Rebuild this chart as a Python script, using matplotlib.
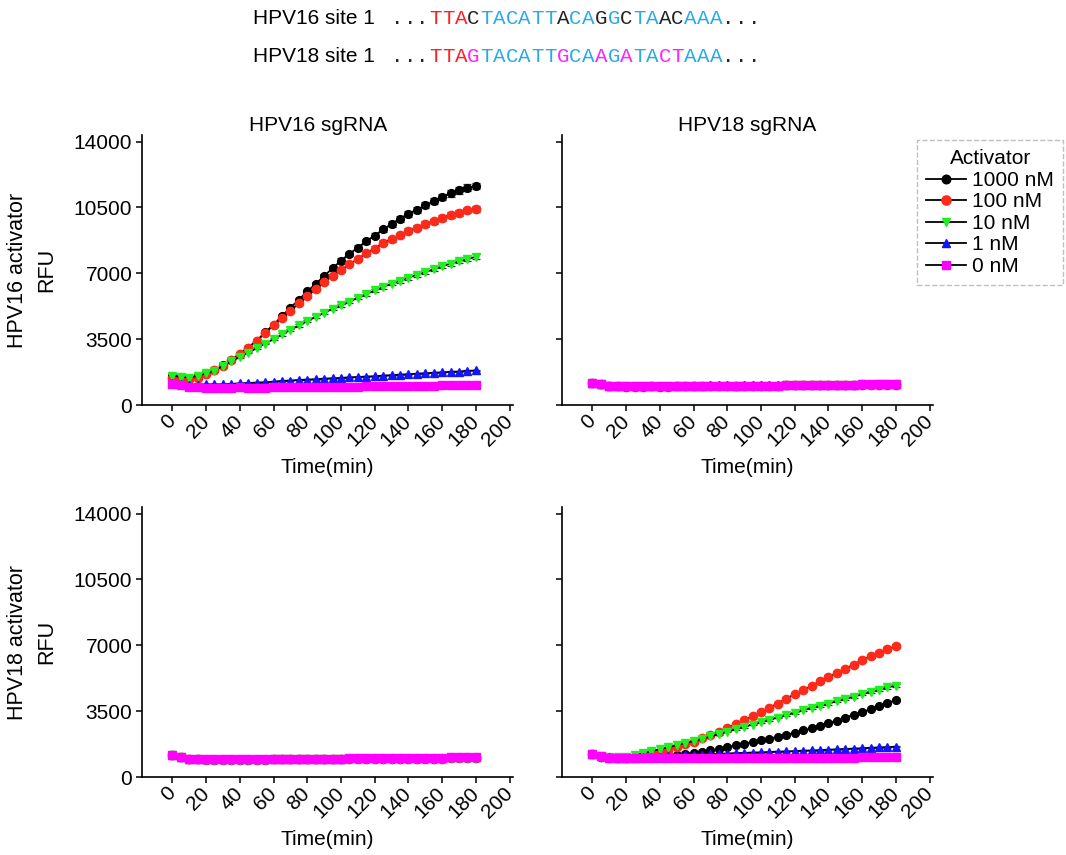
import matplotlib
matplotlib.use("Agg")
import matplotlib.pyplot as plt
from matplotlib.lines import Line2D
import numpy as np

plt.rcParams["font.family"] = ["Liberation Sans", "DejaVu Sans"]

# time points (min)
time_min = list(range(0, 185, 5))

concentrations = ["1000 nM", "100 nM", "10 nM", "1 nM", "0 nM"]
colors = ["#000000", "#ff2a1a", "#22ee22", "#1414ff", "#ff00ff"]
markers = ["o", "o", "v", "^", "s"]
marker_sizes = [5.6, 6.0, 5.8, 5.4, 5.2]

# HPV16 sgRNA + HPV16 activator (RFU)
s16_a16_1000 = [1550, 1500, 1450, 1520, 1690, 1850, 2100, 2380, 2736, 3056, 3411, 3856, 4264,
                4726, 5170, 5597, 6041, 6432, 6858, 7267, 7675, 8031, 8368, 8706, 9008, 9328,
                9630, 9897, 10164, 10377, 10607, 10820, 11049, 11246, 11406, 11548, 11637]
s16_a16_100 = [1457, 1421, 1368, 1457, 1670, 1848, 2080, 2380, 2700, 3056, 3411, 3838, 4229,
               4602, 5010, 5401, 5775, 6166, 6539, 6858, 7178, 7480, 7764, 8066, 8315, 8617,
               8813, 9026, 9257, 9417, 9612, 9754, 9949, 10092, 10216, 10340, 10412]
s16_a16_10 = [1546, 1510, 1457, 1546, 1688, 1830, 2080, 2327, 2558, 2790, 3020, 3269, 3500,
              3749, 3998, 4229, 4460, 4690, 4904, 5117, 5294, 5490, 5703, 5898, 6094, 6272,
              6449, 6609, 6769, 6929, 7071, 7213, 7373, 7515, 7640, 7746, 7888]
s16_a16_1 = [1150, 1100, 1066, 1066, 1100, 1100, 1100, 1120, 1155, 1170, 1190, 1210, 1240,
             1280, 1300, 1330, 1350, 1370, 1400, 1420, 1440, 1470, 1490, 1510, 1530, 1560,
             1590, 1610, 1640, 1660, 1690, 1710, 1740, 1760, 1780, 1810, 1840]
s16_a16_0 = [1137, 1066, 977, 959, 924, 924, 926, 924, 942, 924, 926, 930, 959, 959, 958, 959,
             960, 959, 958, 959, 960, 959, 962, 995, 1013, 1012, 1013, 1014, 1013, 1012, 1013,
             1015, 1066, 1064, 1066, 1067, 1066]

# HPV18 sgRNA + HPV16 activator
s18_a16_1000 = [1180, 1112, 1022, 1004, 988, 985, 988, 990, 988, 985, 990, 1004, 1022, 1020,
                1022, 1024, 1022, 1020, 1024, 1022, 1024, 1022, 1027, 1058, 1055, 1058, 1060,
                1058, 1055, 1058, 1060, 1058, 1094, 1090, 1094, 1096, 1094]
s18_a16_100 = [1176, 1106, 1016, 998, 982, 979, 982, 984, 982, 979, 984, 998, 1016, 1014, 1016,
               1018, 1016, 1014, 1018, 1016, 1018, 1016, 1021, 1052, 1049, 1052, 1054, 1052,
               1049, 1052, 1054, 1052, 1088, 1085, 1089, 1090, 1088]
s18_a16_10 = [1180, 1110, 1021, 1003, 987, 984, 987, 989, 987, 985, 989, 1003, 1021, 1019, 1021,
              1024, 1021, 1019, 1024, 1021, 1024, 1022, 1026, 1057, 1054, 1057, 1059, 1057,
              1055, 1057, 1059, 1057, 1092, 1089, 1093, 1094, 1093]
s18_a16_1 = [1192, 1122, 1034, 1018, 1002, 998, 1001, 1004, 1003, 1000, 1006, 1019, 1036, 1037,
             1039, 1041, 1039, 1037, 1041, 1039, 1043, 1040, 1044, 1071, 1072, 1074, 1076, 1074,
             1072, 1076, 1078, 1076, 1107, 1107, 1110, 1111, 1110]
s18_a16_0 = [1187, 1117, 1028, 1010, 993, 990, 993, 995, 993, 990, 995, 1010, 1028, 1025, 1028,
             1030, 1028, 1025, 1030, 1028, 1030, 1028, 1032, 1063, 1060, 1063, 1065, 1063, 1060,
             1063, 1065, 1063, 1099, 1095, 1099, 1100, 1099]

# HPV16 sgRNA + HPV18 activator
s16_a18_1000 = [1162, 1074, 968, 950, 932, 932, 932, 934, 932, 933, 932, 934, 950, 951, 950,
                950, 950, 951, 950, 950, 950, 986, 987, 986, 987, 986, 987, 986, 987, 986, 987,
                986, 987, 1039, 1040, 1039, 1040]
s16_a18_100 = [1156, 1068, 961, 944, 926, 927, 926, 928, 926, 927, 926, 928, 944, 946, 944, 945,
               944, 946, 944, 945, 944, 979, 981, 979, 982, 980, 981, 979, 982, 980, 981, 979,
               982, 1031, 1034, 1032, 1033]
s16_a18_10 = [1158, 1070, 964, 946, 929, 930, 929, 931, 929, 930, 929, 931, 946, 948, 946, 947,
              946, 948, 946, 947, 946, 982, 984, 982, 984, 982, 983, 982, 984, 982, 983, 982,
              984, 1035, 1036, 1035, 1036]
s16_a18_1 = [1175, 1087, 982, 964, 946, 947, 946, 948, 946, 947, 946, 948, 964, 966, 964, 965,
             964, 966, 964, 965, 964, 999, 1001, 999, 1002, 1000, 1001, 999, 1002, 1000, 1001,
             999, 1002, 1052, 1054, 1052, 1053]
s16_a18_0 = [1170, 1081, 975, 957, 939, 939, 939, 941, 939, 940, 939, 941, 957, 958, 957, 957,
             957, 958, 957, 957, 957, 993, 994, 993, 993, 993, 994, 993, 993, 993, 994, 993, 993,
             1046, 1046, 1046, 1046]

# HPV18 sgRNA + HPV18 activator
s18_a18_1000 = [1201, 1078, 1007, 989, 1007, 1042, 1078, 1113, 1131, 1166, 1184, 1237, 1290,
                1343, 1413, 1484, 1572, 1678, 1767, 1855, 1943, 2032, 2138, 2244, 2350, 2473,
                2579, 2738, 2862, 3003, 3162, 3304, 3445, 3604, 3781, 3940, 4081]
s18_a18_100 = [1200, 1080, 1010, 990, 1020, 1070, 1120, 1200, 1290, 1431, 1572, 1731, 1873,
               2049, 2226, 2403, 2615, 2809, 3021, 3233, 3463, 3692, 3904, 4169, 4399, 4611,
               4841, 5088, 5318, 5530, 5759, 5971, 6219, 6413, 6607, 6784, 6961]
s18_a18_10 = [1201, 1113, 1042, 1042, 1078, 1166, 1272, 1378, 1484, 1590, 1696, 1802, 1908,
              2032, 2155, 2279, 2403, 2544, 2668, 2791, 2915, 3039, 3162, 3286, 3427, 3551,
              3675, 3781, 3904, 4028, 4152, 4275, 4399, 4523, 4646, 4770, 4858]
s18_a18_1 = [1200, 1100, 1040, 1020, 1020, 1030, 1050, 1070, 1090, 1110, 1130, 1150, 1170,
             1190, 1210, 1230, 1250, 1270, 1280, 1300, 1310, 1330, 1350, 1360, 1380, 1400,
             1410, 1430, 1450, 1470, 1490, 1510, 1530, 1550, 1570, 1590, 1610]
s18_a18_0 = [1200, 1110, 1025, 990, 988, 990, 989, 990, 991, 990, 988, 990, 989, 990, 991, 990,
             988, 990, 989, 990, 1000, 1008, 1010, 1009, 1010, 1011, 1010, 1008, 1010, 1009,
             1010, 1011, 1040, 1050, 1048, 1055, 1060]

rel_sd = 0.015  # error bars are small, roughly 1.5 % of the mean

panels = [
    ("HPV16 sgRNA", [s16_a16_1000, s16_a16_100, s16_a16_10, s16_a16_1, s16_a16_0]),
    ("HPV18 sgRNA", [s18_a16_1000, s18_a16_100, s18_a16_10, s18_a16_1, s18_a16_0]),
    (None, [s16_a18_1000, s16_a18_100, s16_a18_10, s16_a18_1, s16_a18_0]),
    (None, [s18_a18_1000, s18_a18_100, s18_a18_10, s18_a18_1, s18_a18_0]),
]
positions = [
    [0.1332, 0.5263, 0.348, 0.3158],
    [0.5272, 0.5263, 0.348, 0.3158],
    [0.1332, 0.0912, 0.348, 0.3158],
    [0.5272, 0.0912, 0.348, 0.3158],
]
title_x = [0.475, 0.5]

fig = plt.figure(figsize=(10.66, 8.55), dpi=100)

for i, ((title, series), pos) in enumerate(zip(panels, positions)):
    ax = fig.add_axes(pos)
    for vals, c, m, ms in zip(series, colors, markers, marker_sizes):
        vals = np.array(vals, dtype=float)
        ax.errorbar(time_min, vals, yerr=vals * rel_sd, fmt="-", color="black", lw=1.3,
                    marker=m, ms=ms, mfc=c, mec=c, ecolor="#333333", elinewidth=0.8,
                    capsize=3, capthick=0.9)
    ax.set_xlim(-18, 202)
    ax.set_ylim(0, 14350)
    ax.set_yticks([0, 3500, 7000, 10500, 14000])
    ax.set_xticks(range(0, 201, 20))
    for s in ["top", "right"]:
        ax.spines[s].set_visible(False)
    for s in ["left", "bottom"]:
        ax.spines[s].set_linewidth(1.2)
    ax.tick_params(axis="both", length=4.5, width=1.1, labelsize=15, pad=2.5)
    ax.tick_params(axis="x", pad=5)
    plt.setp(ax.get_xticklabels(), rotation=45, ha="right", va="center",
             rotation_mode="anchor")
    ax.set_xlabel("Time(min)", fontsize=15, labelpad=6)
    if i % 2 == 1:
        ax.tick_params(axis="y", labelleft=False)
    if title:
        ax.set_title(title, fontsize=15, pad=3, x=title_x[i])

# row labels
fig.text(32 / 1066, 1 - 270 / 855, "HPV16 activator\nRFU", rotation=90, ha="center",
         va="center", fontsize=15.5, linespacing=1.5, multialignment="center")
fig.text(32 / 1066, 1 - 642 / 855, "HPV18 activator\nRFU", rotation=90, ha="center",
         va="center", fontsize=15.5, linespacing=1.5, multialignment="center")

# legend
handles = [Line2D([], [], color="black", lw=1.3, marker=m, ms=ms + 0.6, mfc=c, mec=c)
           for c, m, ms in zip(colors, markers, marker_sizes)]
leg = fig.legend(handles, concentrations, title="Activator", loc="upper left",
                 bbox_to_anchor=(917 / 1066, 1 - 140 / 855), borderaxespad=0,
                 fontsize=15, title_fontsize=15, frameon=True, fancybox=False,
                 edgecolor="#b0b0b0", handlelength=1.9, handletextpad=0.3,
                 labelspacing=0.12, borderpad=0.45)
leg.get_frame().set_linestyle("--")
leg.get_frame().set_linewidth(1.0)

# target site sequences
seq_labels = ["HPV16 site 1", "HPV18 site 1"]
seqs = ["...TTACTACATTACAGGCTAACAAA...", "...TTAGTACATTGCAAGATACTAAA..."]
seq_color_codes = ["kkkrrrkbbbbbbkbbkbkbbkkbbbkkk", "kkkrrrmbbbbbbmbbmbmbbmmbbbkkk"]
code_colors = {"k": "#222222", "r": "#ff2020", "b": "#29aae8", "m": "#ff20ff"}
row_y = [18, 56]
cw = 12.75
for lab, seq, codes, y in zip(seq_labels, seqs, seq_color_codes, row_y):
    fig.text(253 / 1066, 1 - y / 855, lab, ha="left", va="center", fontsize=15)
    for j, (ch, cc) in enumerate(zip(seq, codes)):
        fig.text((390.7 + (j + 0.5) * cw) / 1066, 1 - y / 855, ch, ha="center", va="center",
                 fontsize=15, family="Liberation Mono", color=code_colors[cc])

fig.savefig("out.png", dpi=100)
